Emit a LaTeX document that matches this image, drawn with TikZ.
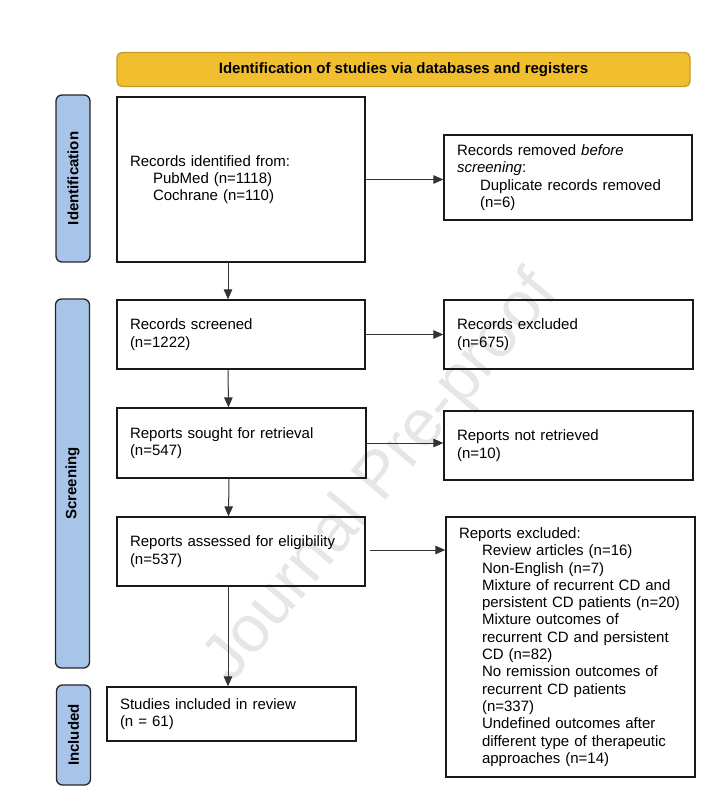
\documentclass[tikz,border=0pt]{standalone}
\usepackage{fontspec}
\setmainfont{Liberation Sans}
\usetikzlibrary{arrows.meta}
\definecolor{gold}{HTML}{F0BE2E}
\definecolor{goldline}{HTML}{C49A22}
\definecolor{barblue}{HTML}{A9C4E9}
\definecolor{wm}{HTML}{E6E6E6}
\tikzset{
  txt/.style={font=\fontsize{15}{17.3}\selectfont},
  box/.style={txt, draw=black!90, line width=1.3pt, inner xsep=13pt, inner ysep=0pt, align=left},
  bar/.style={draw=black!85, line width=1.3pt, fill=barblue, rounded corners=6pt, rotate=90,
    minimum height=34pt, inner sep=0pt, font=\fontsize{15}{17}\selectfont\bfseries},
  arr/.style={draw=black!80, line width=1pt, -{Triangle[length=10pt,width=8.5pt]}}
}
\newcommand{\ind}{\hspace*{23pt}}
\begin{document}
\begin{tikzpicture}[x=1pt,y=-1pt]
\useasboundingbox (0,0) rectangle (713,792);
% watermark
\node[text=wm, font=\fontsize{66}{66}\selectfont, rotate=50, inner sep=0pt] (wmark) at (382,478) {Journal Pre-proof};
% header
\node[draw=goldline, line width=1.3pt, fill=gold, rounded corners=5pt, minimum width=573pt, minimum height=34pt,
  font=\fontsize{15}{17}\selectfont\bfseries] (head) at (403.5,69.5) {Identification of studies via databases and registers};
% side bars
\node[bar, minimum width=167pt] (bid) at (73,178.5) {Identification};
\node[bar, minimum width=369pt] (bsc) at (72.5,483.5) {Screening};
\node[bar, minimum width=100pt] (bin) at (73.5,735) {Included};
% boxes
\node[box, minimum width=248pt, minimum height=165pt, text width=222pt] (ident) at (241,179.5)
  {Records identified from:\\\ind PubMed (n=1118)\\\ind Cochrane (n=110)};
\node[box, minimum width=248pt, minimum height=85pt, text width=222pt] (remov) at (568,177.5)
  {Records removed \textit{before}\\\textit{screening}:\\\ind Duplicate records removed\\\ind (n=6)};
\node[box, minimum width=248pt, minimum height=69pt, text width=222pt] (screen) at (241,334.5)
  {Records screened\\(n=1222)};
\node[box, minimum width=249pt, minimum height=69pt, text width=223pt] (excl) at (568.5,334.5)
  {Records excluded\\(n=675)};
\node[box, minimum width=249pt, minimum height=70pt, text width=223pt] (sought) at (241.5,443)
  {Reports sought for retrieval\\(n=547)};
\node[box, minimum width=249pt, minimum height=69pt, text width=223pt] (notret) at (568.5,445.5)
  {Reports not retrieved\\(n=10)};
\node[box, minimum width=248pt, minimum height=69pt, text width=222pt] (assess) at (241,551.5)
  {Reports assessed for eligibility\\(n=537)};
\node[box, minimum width=249pt, minimum height=260pt, text width=223pt] (repex) at (570.5,647)
  {Reports excluded:\\\ind Review articles (n=16)\\\ind Non-English (n=7)\\\ind Mixture of recurrent CD and\\\ind persistent CD patients (n=20)\\\ind Mixture outcomes of\\\ind recurrent CD and persistent\\\ind CD (n=82)\\\ind No remission outcomes of\\\ind recurrent CD patients\\\ind (n=337)\\\ind Undefined outcomes after\\\ind different type of therapeutic\\\ind approaches (n=14)};
\node[box, minimum width=249pt, minimum height=54pt, text width=223pt] (incl) at (231.5,714)
  {Studies included in review\\(n = 61)};
% connectors
\draw[arr] ([xshift=-13pt]ident.south) -- ([xshift=-13pt]screen.north);
\draw[arr] (ident.east) -- (ident.east -| remov.west);
\draw[arr] (screen.east) -- (screen.east -| excl.west);
\draw[arr] ([xshift=-13pt]screen.south) -- ([xshift=-13pt]sought.north);
\draw[arr] (sought.east) -- (sought.east -| notret.west);
\draw[arr] ([xshift=-12.5pt]sought.south) -- ([xshift=-12.5pt]assess.north);
\draw[arr] ([xshift=4pt,yshift=1.5pt]assess.east) -- ([yshift=1.5pt]assess.east -| repex.west);
\draw[arr] ([xshift=-13pt]assess.south) -- ([xshift=-13pt]assess.south |- incl.north);
\end{tikzpicture}
\end{document}
